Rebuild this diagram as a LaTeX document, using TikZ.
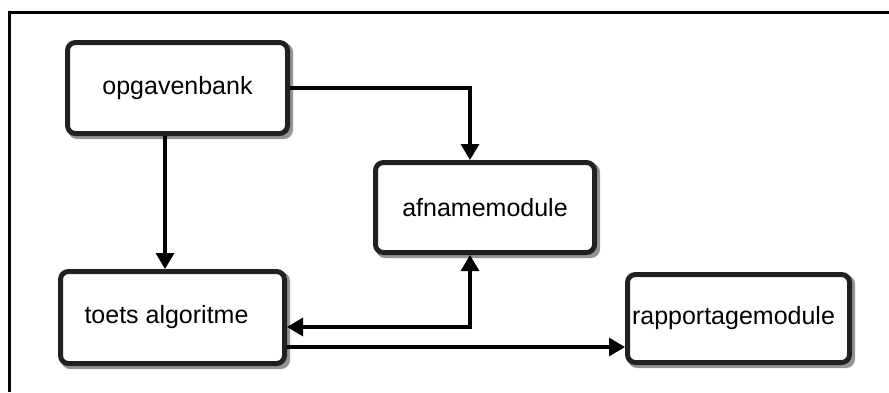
\documentclass[tikz,border=0pt]{standalone}
\usepackage{fontspec}
\setmainfont{Liberation Sans}
\usetikzlibrary{arrows.meta,backgrounds}
\begin{document}
\begin{tikzpicture}[x=1pt,y=-1pt,
  box/.style={draw=black!87, line width=5pt, rounded corners=8pt, fill=white,
    inner sep=0pt, outer sep=2.5pt,
    font=\fontsize{25}{30}\selectfont},
  shadowbox/.style={fill=black!42, rounded corners=9pt},
  arr/.style={line width=3.2pt, -{Triangle[length=16pt,width=18pt]}},
  dblarr/.style={line width=3.2pt, {Triangle[length=16pt,width=18pt]}-{Triangle[length=16pt,width=18pt]}}
]
\useasboundingbox (0,0) rectangle (889,392);
\draw[line width=3pt] (9,392) -- (9,12) -- (889,12);

\node[box, minimum width=220pt, minimum height=91pt] (opg) at (177.5,88) {\raisebox{3pt}{opgavenbank}};
\node[box, minimum width=219pt, minimum height=90pt] (afn) at (485,207.5) {afnamemodule};
\node[box, minimum width=224pt, minimum height=92pt] (toets) at (172.5,317.5) {\hspace*{-12pt}\raisebox{3pt}{toets algoritme}};
\node[box, minimum width=222pt, minimum height=88pt] (rap) at (738.5,318.5) {\hspace*{-10pt}\raisebox{5pt}{rapportagemodule}};

\begin{scope}[on background layer]
  \foreach \n in {opg,afn,toets,rap}
    \fill[shadowbox] ([shift={(3pt,-3pt)}]\n.south west) rectangle ([shift={(3pt,-3pt)}]\n.north east);
\end{scope}

\draw[arr] (opg.east) -| ([xshift=-15pt]afn.north);
\draw[arr] ([xshift=-12.5pt]opg.south) -- ([xshift=-12.5pt]opg.south |- toets.north);
\draw[dblarr] ([yshift=-9.5pt]toets.east) -| ([xshift=-15pt]afn.south);
\draw[arr] ([yshift=-29.5pt]toets.east) -- ([yshift=-29.5pt]toets.east -| rap.west);
\end{tikzpicture}
\end{document}
